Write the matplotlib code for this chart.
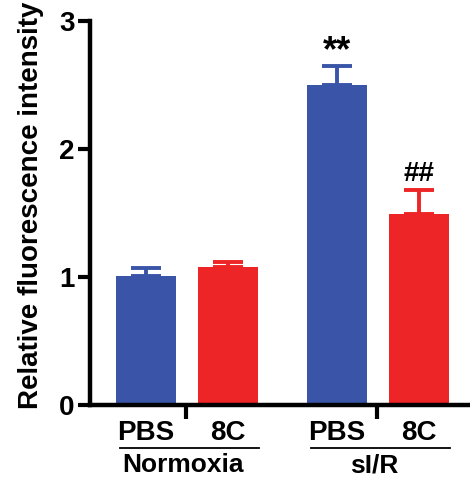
import matplotlib
matplotlib.use('Agg')
import matplotlib.pyplot as plt

# data
groups = ['Normoxia', 'sI/R']
treatments = ['PBS', '8C', 'PBS', '8C']
means = [1.01, 1.08, 2.50, 1.49]
errs = [0.06, 0.04, 0.15, 0.19]
marks = ['', '', '**', '##']
colors = ['#3a55a7', '#ee2526', '#3a55a7', '#ee2526']
yticks = [0, 1, 2, 3]

plt.rcParams['font.family'] = ['Liberation Sans', 'DejaVu Sans']
plt.rcParams['font.weight'] = 'bold'

fig = plt.figure(figsize=(4.70, 4.79), dpi=100)
ax = fig.add_axes([90/470, 1-405/479, 1-90/470, (405-21)/479])

pos = [0, 1, 2.33, 3.33]
w = 0.73
ax.bar(pos, means, width=w, color=colors, zorder=2)
for x, m, e, c, s in zip(pos, means, errs, colors, marks):
    ax.errorbar([x], [m], yerr=[[0], [e]], fmt='none', ecolor=c,
                elinewidth=2.8, capsize=11, capthick=2.8, zorder=1)
    if s:
        fs = 26 if s == '**' else 20
        off = -0.03 if s == '**' else 0.02
        ax.text(x, m + e + off, s, ha='center', va='bottom', fontsize=fs, fontweight='bold')

ax.set_ylim(0, 3)
ax.set_xlim(-0.683, 3.95)
ax.set_yticks(yticks)
ax.set_yticklabels([str(t) for t in yticks], fontsize=20, fontweight='bold')
ax.tick_params(axis='y', length=9, width=3, pad=2)
ax.set_xticks([0.49, 2.82])
ax.set_xticklabels([])
ax.tick_params(axis='x', length=10, width=3)
for s in ['top', 'right']:
    ax.spines[s].set_visible(False)
for s in ['left', 'bottom']:
    ax.spines[s].set_linewidth(3.2)

ax.set_ylabel('Relative fluorescence intensity', fontsize=20, fontweight='bold')
ax.yaxis.set_label_coords(-0.12, 0.52)

# treatment labels and group underlines
for x, t in zip(pos, treatments):
    ax.text(x, -0.22, t, ha='center', va='center', fontsize=20, fontweight='bold', clip_on=False)
for i, g in enumerate(groups):
    a, b = pos[2*i], pos[2*i+1]
    ax.plot([a - 0.32, b + 0.38], [-0.335, -0.335], color='black', lw=1.3, clip_on=False)
    ax.text((a + b) / 2 - 0.05, -0.47, g, ha='center', va='center', fontsize=19,
            fontweight='bold', clip_on=False)

fig.savefig('out.png', dpi=100)
